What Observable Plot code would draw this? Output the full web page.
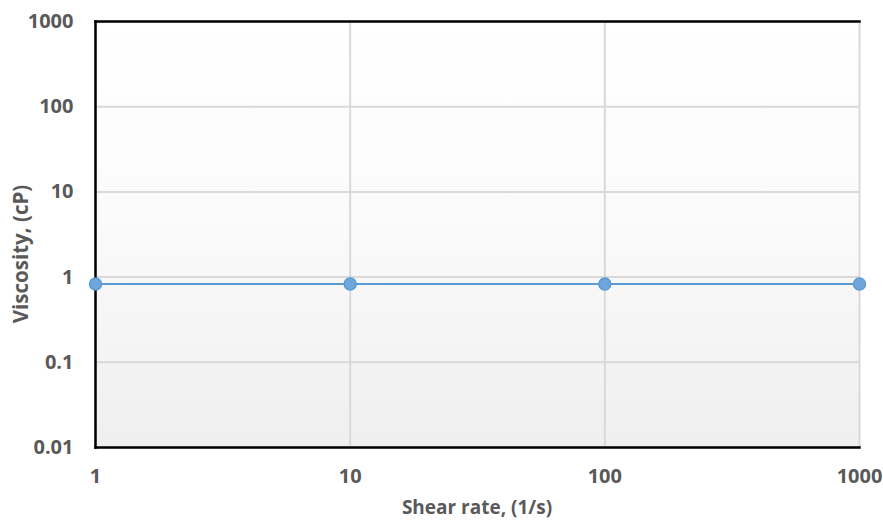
<!DOCTYPE html>
<html>
<head>
<meta charset="utf-8">
<script src="https://cdn.jsdelivr.net/npm/d3@7"></script>
<script src="https://cdn.jsdelivr.net/npm/@observablehq/plot@0.6"></script>
<style>
  html, body { margin: 0; padding: 0; background: #fff; }
  #chart svg { display: block; }
</style>
</head>
<body>
<div id="chart"></div>
<script>
const shearRate = [1, 10, 100, 1000];
const viscosity = [0.83, 0.83, 0.83, 0.83];
const xTicks = [1, 10, 100, 1000];
const yTicks = [0.01, 0.1, 1, 10, 100, 1000];
const xTitle = "Shear rate, (1/s)";
const yTitle = "Viscosity, (cP)";

const data = shearRate.map((x, i) => ({x, y: viscosity[i]}));

const W = 883, H = 521;
const mL = 95, mR = 24, mT = 21, mB = 74;
const font = "'Open Sans', sans-serif";

const defs = () => {
  const ns = "http://www.w3.org/2000/svg";
  const d = document.createElementNS(ns, "defs");
  d.innerHTML = `<linearGradient id="bg" x1="0" y1="0" x2="0" y2="1">
    <stop offset="0" stop-color="#ffffff"/>
    <stop offset="0.45" stop-color="#fbfbfb"/>
    <stop offset="1" stop-color="#efefef"/>
  </linearGradient>`;
  return d;
};

const chart = Plot.plot({
  width: W,
  height: H,
  marginLeft: mL,
  marginRight: mR,
  marginTop: mT,
  marginBottom: mB,
  style: {fontFamily: font, background: "#fff", overflow: "visible"},
  x: {type: "log", domain: [1, 1000]},
  y: {type: "log", domain: [0.01, 1000]},
  marks: [
    defs,
    Plot.frame({fill: "url(#bg)", stroke: null}),
    Plot.gridX(xTicks, {stroke: "#d9d9d9", strokeOpacity: 1, strokeWidth: 2}),
    Plot.gridY(yTicks, {stroke: "#d9d9d9", strokeOpacity: 1, strokeWidth: 2}),
    Plot.frame({anchor: "top", stroke: "#000", strokeWidth: 2.5}),
    Plot.frame({anchor: "left", stroke: "#000", strokeWidth: 2.5}),
    Plot.frame({anchor: "bottom", stroke: "#000", strokeWidth: 2.5}),
    Plot.axisX(xTicks, {tickSize: 0, tickPadding: 21, tickFormat: d => String(d), label: null,
      fontSize: 20, fontWeight: "bold", fill: "#595959"}),
    Plot.axisY(yTicks, {tickSize: 0, tickPadding: 22, tickFormat: d => String(d), label: null,
      fontSize: 20, fontWeight: "bold", fill: "#595959"}),
    Plot.line(data, {x: "x", y: "y", stroke: "#5b9bd5", strokeWidth: 2}),
    Plot.dot(data, {x: "x", y: "y", r: 6, fill: "#6fa7dc", stroke: "#5b9bd5", strokeWidth: 1.5, fillOpacity: 1})
  ]
});

const svg = d3.select(chart);
svg.append("text")
  .attr("x", (mL + (W - mR)) / 2)
  .attr("y", 514)
  .attr("text-anchor", "middle")
  .attr("font-family", font)
  .attr("font-size", 19)
  .attr("font-weight", "bold")
  .attr("fill", "#595959")
  .text(xTitle);
svg.append("text")
  .attr("transform", `translate(28,254) rotate(-90)`)
  .attr("text-anchor", "middle")
  .attr("font-family", font)
  .attr("font-size", 20.5)
  .attr("font-weight", "bold")
  .attr("fill", "#595959")
  .text(yTitle);

document.getElementById("chart").appendChild(chart);
</script>
</body>
</html>
